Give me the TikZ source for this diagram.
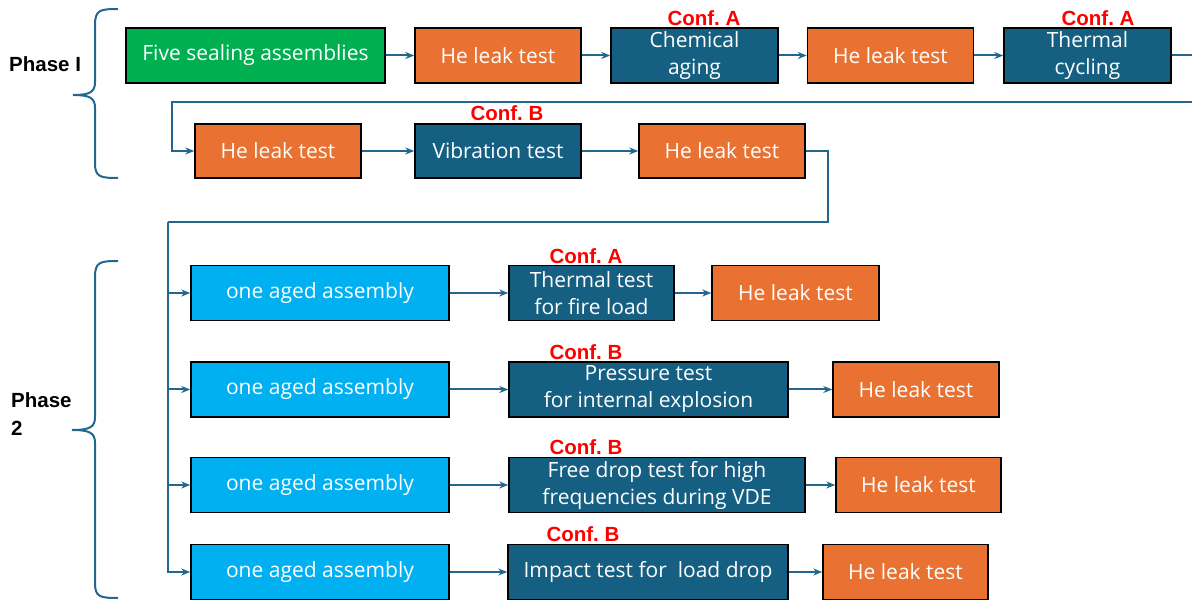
\documentclass[tikz,border=0pt]{standalone}
\usepackage{fontspec}
\setmainfont{Open Sans}
\newfontfamily\arialfont{Liberation Sans}
\usepackage{tikz}
\usetikzlibrary{arrows.meta}
\definecolor{startgreen}{HTML}{00B050}
\definecolor{leakorange}{HTML}{E97132}
\definecolor{testblue}{HTML}{156082}
\definecolor{agedblue}{HTML}{00B0F0}
\definecolor{linecol}{HTML}{22678F}
\frenchspacing

\begin{document}
\begin{tikzpicture}[x=1pt,y=-1pt,>={Stealth[length=9pt,width=7pt]},
    box/.style={draw=black,line width=1.5pt,minimum height=55pt,inner sep=2pt,text=white,align=center,font=\fontsize{21}{27}\selectfont},
    start/.style={box,fill=startgreen},
    leak/.style={box,fill=leakorange,minimum width=166pt},
    testbox/.style={box,fill=testblue},
    aged/.style={box,fill=agedblue,minimum width=258pt},
    conf/.style={text=red,inner sep=0pt,font=\arialfont\bfseries\fontsize{20.5}{21}\selectfont},
    phase/.style={inner sep=0pt,align=left,font=\arialfont\bfseries\fontsize{20.5}{28}\selectfont},
    flow/.style={->,draw=linecol,line width=2pt},
    brc/.style={draw=linecol,line width=2pt}]
\useasboundingbox (0,0) rectangle (1192,601);
\clip (0,0) rectangle (1192,601);

% phase I
\node[start,minimum width=259pt] (five) at (255.5,55.5) {Five sealing assemblies};
\node[leak] (he1) at (498,55.5) {He leak test};
\node[testbox,minimum width=167pt] (chem) at (694.5,55.5) {Chemical\\aging};
\node[leak] (he2) at (890.5,55.5) {He leak test};
\node[testbox,minimum width=167pt] (therm) at (1087.5,55.5) {Thermal\\cycling};
\node[conf] (confchem) at (704,18) {Conf. A};
\node[conf] (conftherm) at (1098,18) {Conf. A};

\node[leak,minimum height=54pt] (he3) at (278,151) {He leak test};
\node[testbox,minimum width=166pt,minimum height=54pt] (vib) at (498,151) {Vibration test};
\node[leak,minimum height=54pt] (he4) at (722,151) {He leak test};
\node[conf] (confvib) at (507,113) {Conf. B};

\draw[flow](five)--(he1);
\draw[flow](he1)--(chem);
\draw[flow](chem)--(he2);
\draw[flow](he2)--(therm);
\coordinate (loopl) at (172,102);
\draw[flow](therm.east)--++(40,0)|-(loopl)|-(he3.west);
\draw[flow](he3)--(vib);
\draw[flow](vib)--(he4);

% phase 2
\coordinate (turn) at (828,222);
\coordinate (bus) at (168,222);
\draw[brc](he4.east)-|(turn)--(bus);

\node[aged] (aged1) at (320,293) {one aged assembly};
\node[aged] (aged2) at (320,389.5) {one aged assembly};
\node[aged] (aged3) at (320,485) {one aged assembly};
\node[aged] (aged4) at (320,572) {one aged assembly};

\node[testbox,minimum width=165pt] (fire) at (591.5,293) {Thermal test\\for fire load};
\node[testbox,minimum width=279pt] (press) at (648.5,389.5) {Pressure test\\for internal explosion};
\node[testbox,minimum width=296pt] (drop) at (657,485) {Free drop test for high\\frequencies during VDE};
\node[testbox,minimum width=280pt] (impact) at (648,572) {Impact test for\ \ load drop};

\node[leak,minimum width=167pt] (he5) at (795.5,293) {He leak test};
\node[leak] (he6) at (916,389.5) {He leak test};
\node[leak,minimum width=165pt] (he7) at (918.5,485) {He leak test};
\node[leak,minimum width=165pt] (he8) at (905.5,572) {He leak test};

\node[conf] (conffire) at (586,256) {Conf. A};
\node[conf] (confpress) at (586,352) {Conf. B};
\node[conf] (confdrop) at (586,447) {Conf. B};
\node[conf] (confimpact) at (583,534) {Conf. B};

\foreach \i/\t in {1/fire,2/press,3/drop,4/impact}{
    \draw[flow](bus)|-(aged\i.west);
    \draw[flow](aged\i)--(\t);
    \draw[flow](\t)--(he\the\numexpr\i+4\relax);
}

% braces
\node[phase,anchor=west] (ph1) at (9,64) {Phase I};
\node[phase,anchor=west] (ph2) at (11,414) {Phase\\2};
\draw[brc](118,9) .. controls (100,9) and (95,10) .. (95,25)--(95,82)
    .. controls (95,92) and (90,95) .. (73,95)
    .. controls (90,95) and (95,98) .. (95,108)--(95,163)
    .. controls (95,177) and (100,178) .. (118,178);
\draw[brc](118,261) .. controls (100,261) and (95,262) .. (95,277)--(95,417)
    .. controls (95,427) and (90,430) .. (72,430)
    .. controls (90,430) and (95,433) .. (95,443)--(95,583)
    .. controls (95,597) and (100,598) .. (118,598);
\end{tikzpicture}
\end{document}
